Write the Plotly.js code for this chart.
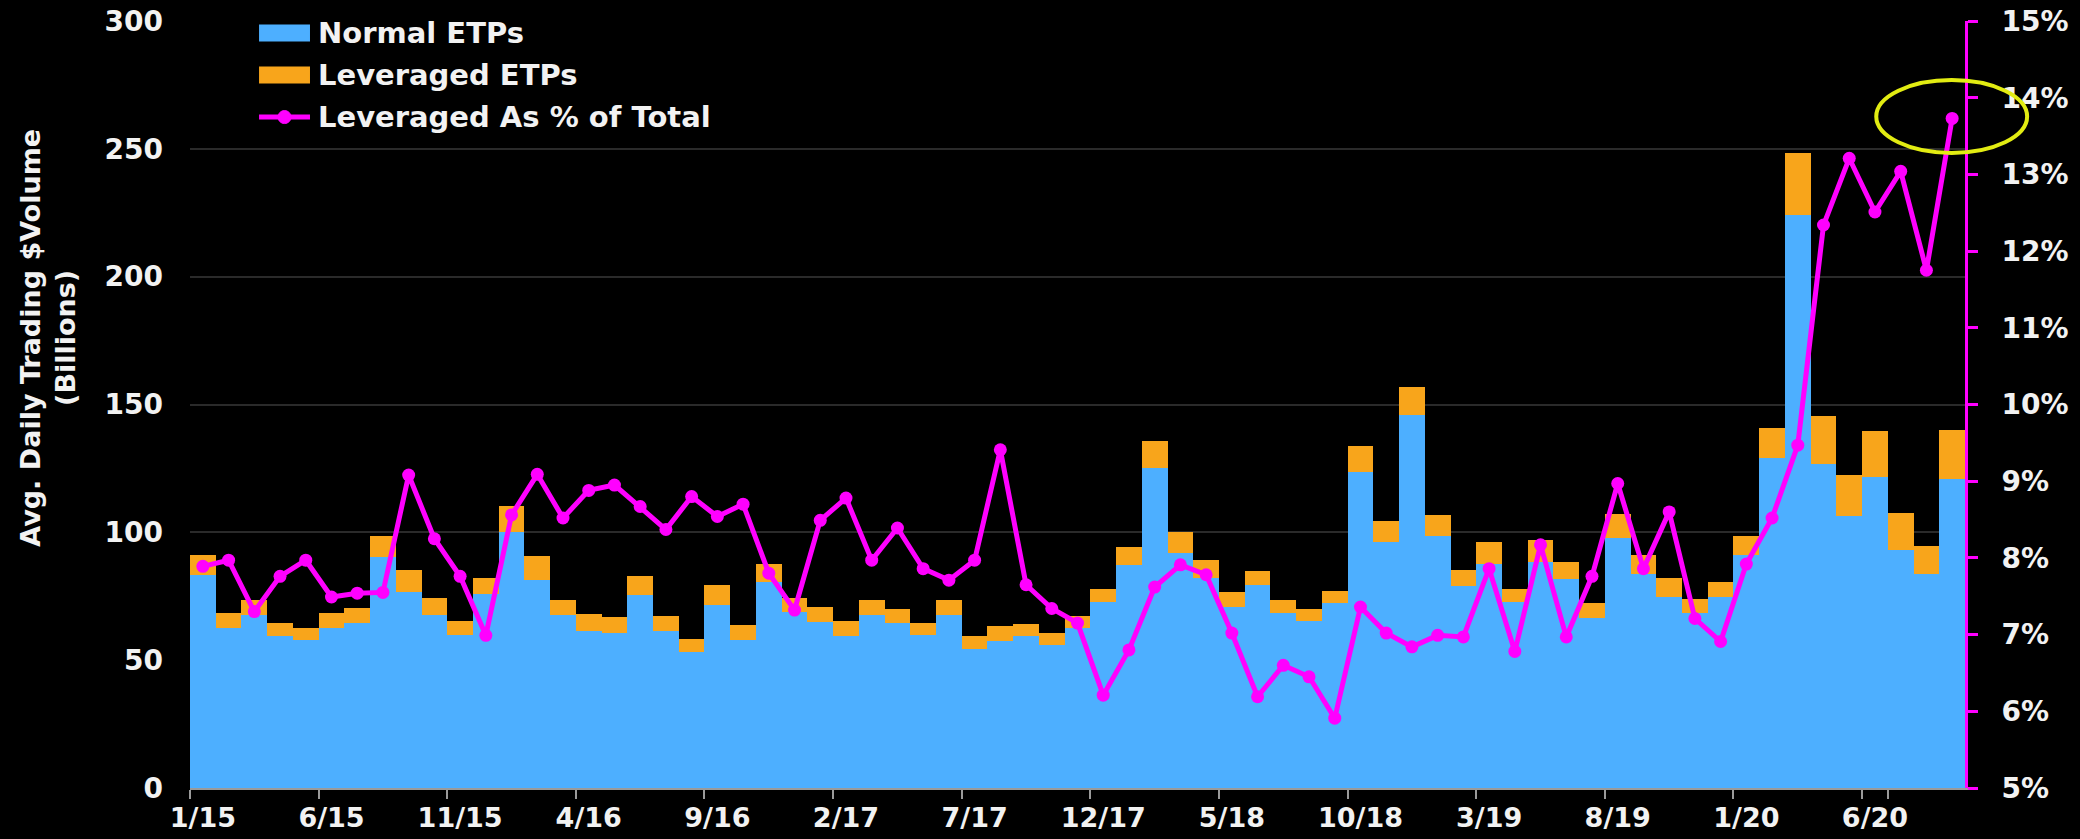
<!DOCTYPE html>
<html>
<head>
<meta charset="utf-8">
<script src="https://cdn.plot.ly/plotly-3.0.1.min.js"></script>
<style>html,body{margin:0;padding:0;background:#000;}#chart{width:2080px;height:839px;}</style>
</head>
<body>
<div id="chart"></div>
<script>
// Month categories (1/15 .. 9/20)
const months = [
  '1/15','2/15','3/15','4/15','5/15','6/15','7/15','8/15','9/15','10/15','11/15','12/15',
  '1/16','2/16','3/16','4/16','5/16','6/16','7/16','8/16','9/16','10/16','11/16','12/16',
  '1/17','2/17','3/17','4/17','5/17','6/17','7/17','8/17','9/17','10/17','11/17','12/17',
  '1/18','2/18','3/18','4/18','5/18','6/18','7/18','8/18','9/18','10/18','11/18','12/18',
  '1/19','2/19','3/19','4/19','5/19','6/19','7/19','8/19','9/19','10/19','11/19','12/19',
  '1/20','2/20','3/20','4/20','5/20','6/20','7/20','8/20','9/20'
];
const tickLabels = ['1/15','6/15','11/15','4/16','9/16','2/17','7/17','12/17','5/18','10/18','3/19','8/19','1/20','6/20'];

// Avg. daily trading $volume, billions
const normalETPs = [
  83.2,62.5,67.7,59.3,58.0,62.5,64.5,90.3,76.7,67.7,60.0,75.7,
  100.3,81.5,67.7,61.5,60.6,75.5,61.5,53.2,71.6,58.0,80.4,69.0,
  65.1,59.3,67.7,64.5,59.7,67.7,54.5,57.4,59.3,56.1,62.5,72.6,
  87.1,125.2,92.0,82.2,70.9,79.3,68.3,65.4,72.2,123.5,96.4,145.9,
  98.4,79.1,87.7,72.6,88.4,81.7,66.4,97.7,83.9,74.8,68.3,74.8,
  91.1,129.0,224.0,126.8,106.4,121.6,93.0,83.6,120.8
];
const leveragedETPs = [
  7.8,5.8,5.8,5.2,4.5,5.8,5.8,8.1,8.4,6.8,5.4,6.5,
  10.0,9.2,5.8,6.5,6.1,7.4,5.9,5.2,7.7,5.8,7.3,5.5,
  5.8,6.1,5.8,5.5,4.8,5.8,4.8,6.0,4.8,4.5,4.8,5.4,
  7.1,10.7,8.3,6.8,5.6,5.5,5.2,4.6,4.8,10.4,8.1,10.9,
  8.3,6.0,8.4,5.4,8.6,6.7,5.8,9.4,7.3,7.4,5.6,5.8,
  7.4,11.9,24.4,18.6,15.9,18.1,14.4,11.2,19.4
];
// Leveraged as % of total
const leveragedPct = [
  7.89,7.97,7.30,7.76,7.97,7.49,7.54,7.55,9.08,8.25,7.76,6.99,
  8.56,9.09,8.52,8.88,8.95,8.67,8.37,8.80,8.54,8.70,7.80,7.32,
  8.49,8.78,7.97,8.39,7.86,7.71,7.97,9.41,7.65,7.34,7.15,6.21,
  6.80,7.62,7.91,7.78,7.02,6.19,6.60,6.45,5.91,7.36,7.02,6.84,
  6.99,6.97,7.86,6.78,8.17,6.97,7.76,8.97,7.86,8.60,7.21,6.91,
  7.92,8.52,9.47,12.34,13.21,12.51,13.04,11.75,13.73
];

const names = ['Normal ETPs','Leveraged ETPs','Leveraged As % of Total'];
const cBlue = '#4dafff', cOrange = '#f8a51b', cMag = '#ff00ff', cYellow = '#e2ec12';
const fontFam = 'DejaVu Sans, Verdana, sans-serif';
const txt = '#f2f2f2';

const traces = [
  {type:'bar', name:names[0], x:months, y:normalETPs, marker:{color:cBlue, line:{width:0}}, showlegend:false, hoverinfo:'skip'},
  {type:'bar', name:names[1], x:months, y:leveragedETPs, marker:{color:cOrange, line:{width:0}}, showlegend:false, hoverinfo:'skip'},
  {type:'scatter', mode:'lines+markers', name:names[2], x:months, y:leveragedPct, yaxis:'y2',
   line:{color:cMag, width:5}, marker:{color:cMag, size:13}, showlegend:false, cliponaxis:false, hoverinfo:'skip'}
];

const tickFont = {family:fontFam, size:28, color:txt, weight:'bold'};
const xTickFont = {family:fontFam, size:27, color:txt, weight:'bold'};
const legFont = {family:fontFam, size:29, color:txt, weight:'bold'};

// manual legend placement (paper coords)
const lx0 = 0.0389, lx1 = 0.0676, ltx = 0.071;
const ly = [0.9844, 0.9296, 0.8748];
const sh = 0.0111;

const layout = {
  width:2080, height:839,
  paper_bgcolor:'#000', plot_bgcolor:'#000',
  margin:{l:190, r:115, t:21, b:51},
  barmode:'stack', bargap:0,
  font:{family:fontFam, color:txt},
  xaxis:{
    type:'category', range:[-0.5, months.length-0.5],
    tickmode:'array', tickvals:tickLabels, ticktext:tickLabels,
    tickson:'boundaries', ticks:'outside', ticklen:9, tickwidth:2, tickcolor:'#9a9a9a',
    showline:true, linecolor:'#9a9a9a', linewidth:2, showgrid:false, zeroline:false,
    tickfont:xTickFont, tickangle:0, ticklabelstandoff:5
  },
  yaxis:{
    range:[0,300], tickmode:'linear', tick0:0, dtick:50,
    showgrid:true, gridcolor:'#2a2a2a', gridwidth:2, zeroline:false, showline:false,
    ticks:'', tickfont:tickFont, ticklabelstandoff:26
  },
  yaxis2:{
    overlaying:'y', side:'right', range:[5,15], tickmode:'linear', tick0:5, dtick:1,
    ticksuffix:'%', showgrid:false, zeroline:false,
    showline:true, linecolor:cMag, linewidth:3,
    ticks:'outside', ticklen:10, tickwidth:3, tickcolor:cMag,
    tickfont:tickFont, ticklabelstandoff:18
  },
  shapes:[
    {type:'rect', xref:'paper', yref:'paper', x0:lx0, x1:lx1, y0:ly[0]-sh, y1:ly[0]+sh, fillcolor:cBlue, line:{width:0}},
    {type:'rect', xref:'paper', yref:'paper', x0:lx0, x1:lx1, y0:ly[1]-sh, y1:ly[1]+sh, fillcolor:cOrange, line:{width:0}},
    {type:'line', xref:'paper', yref:'paper', x0:lx0, x1:lx1, y0:ly[2], y1:ly[2], line:{color:cMag, width:5}},
    {type:'circle', xref:'paper', yref:'paper', x0:(lx0+lx1)/2-0.0037, x1:(lx0+lx1)/2+0.0037, y0:ly[2]-0.0085, y1:ly[2]+0.0085, fillcolor:cMag, line:{color:cMag, width:1}},
    {type:'circle', xref:'paper', yref:'paper', layer:'above', x0:0.950, x1:1.035, y0:0.828, y1:0.923, line:{color:cYellow, width:4}}
  ],
  annotations:[
    {xref:'paper', yref:'paper', x:ltx, y:ly[0], xanchor:'left', yanchor:'middle', text:names[0], showarrow:false, font:legFont},
    {xref:'paper', yref:'paper', x:ltx, y:ly[1], xanchor:'left', yanchor:'middle', text:names[1], showarrow:false, font:legFont},
    {xref:'paper', yref:'paper', x:ltx, y:ly[2], xanchor:'left', yanchor:'middle', text:names[2], showarrow:false, font:legFont},
    {xref:'paper', yref:'paper', x:-0.08, y:0.587, xanchor:'center', yanchor:'middle', textangle:-90,
     text:'Avg. Daily Trading $Volume<br>(Billions)', showarrow:false,
     font:{family:fontFam, size:27, color:txt, weight:'bold'}}
  ]
};

Plotly.newPlot('chart', traces, layout, {staticPlot:true, displayModeBar:false});
</script>
</body>
</html>
